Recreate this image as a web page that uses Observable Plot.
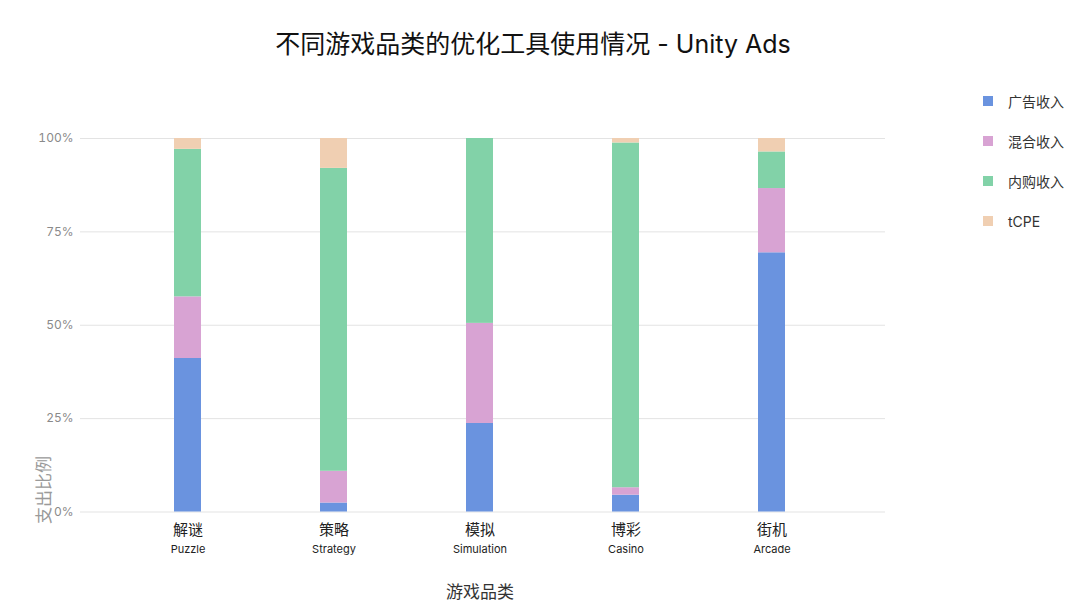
<!DOCTYPE html>
<html>
<head>
<meta charset="utf-8">
<script src="https://cdn.jsdelivr.net/npm/d3@7"></script>
<script src="https://cdn.jsdelivr.net/npm/@observablehq/plot@0.6"></script>
<style>
  html, body { margin: 0; padding: 0; background: #fff; }
  body { font-family: Inter, "Noto Sans CJK SC", sans-serif; }
  #wrap { position: relative; width: 1080px; height: 609px; overflow: hidden; }
  #chart { position: absolute; left: 0; top: 0; }
  #title { position: absolute; left: 0; width: 1066px; top: 24px; text-align: center; font-size: 25px; color: #111; }
  #ylabel { position: absolute; left: 42px; top: 490px; transform: translate(-50%, -50%) rotate(-90deg); font-size: 17px; color: #9a9a9a; white-space: nowrap; }
  #xlabel { position: absolute; left: 480px; top: 590px; transform: translate(-50%, -50%); font-size: 17px; color: #333; white-space: nowrap; }
  #legend { position: absolute; left: 983px; top: 91px; }
  .li { display: flex; align-items: center; height: 20px; margin-bottom: 20px; font-size: 14px; color: #333; }
  .sw { width: 10px; height: 10px; margin-right: 15px; }
</style>
</head>
<body>
<div id="wrap">
  <div id="chart"></div>
  <div id="title">不同游戏品类的优化工具使用情况 - Unity Ads</div>
  <div id="ylabel">支出比例</div>
  <div id="xlabel">游戏品类</div>
  <div id="legend"></div>
</div>
<script>
const categories = ["解谜", "策略", "模拟", "博彩", "街机"];
const categoriesEn = ["Puzzle", "Strategy", "Simulation", "Casino", "Arcade"];
const seriesNames = ["广告收入", "混合收入", "内购收入", "tCPE"];
const adRevenue    = [41.1, 2.4, 23.7, 4.5, 69.4];
const hybridRevenue = [16.5, 8.5, 26.8, 2.0, 17.2];
const iapRevenue   = [39.5, 81.1, 49.5, 92.3, 9.8];
const tcpe         = [2.9, 8.0, 0.0, 1.2, 3.6];
const yTicks = [0, 0.25, 0.5, 0.75, 1];
const colors = ["#6a93df", "#d8a3d3", "#82d2a8", "#f0cfb2"];

const seriesValues = [adRevenue, hybridRevenue, iapRevenue, tcpe];
const rows = [];
seriesNames.forEach((s, si) => {
  categories.forEach((c, ci) => {
    rows.push({category: c, en: categoriesEn[ci], series: s, value: seriesValues[si][ci] / 100});
  });
});
const labelRows = categories.map((c, i) => ({category: c, en: categoriesEn[i]}));

const chart = Plot.plot({
  width: 1080,
  height: 609,
  marginLeft: 80,
  marginRight: 195,
  marginTop: 138,
  marginBottom: 97.5,
  style: {fontFamily: 'Inter, "Noto Sans CJK SC", sans-serif', background: "transparent"},
  x: {domain: categories, paddingInner: 0.816, paddingOuter: 0.408, insetLeft: 33, insetRight: 40, axis: null},
  y: {domain: [0, 1], ticks: yTicks, tickFormat: d3.format(".0%"), label: null, grid: false},
  color: {domain: seriesNames, range: colors},
  marks: [
    Plot.gridY(yTicks, {stroke: "#e3e3e3", strokeOpacity: 1, strokeWidth: 1}),
    Plot.axisY(yTicks, {tickSize: 0, tickPadding: 7, tickFormat: d3.format(".0%"), fontSize: 12, color: "#8a8a8a", label: null}),
    Plot.barY(rows, {x: "category", y: "value", fill: "series", order: seriesNames}),
    Plot.text(labelRows, {x: "category", text: "category", frameAnchor: "bottom", dy: 23, fontSize: 15, fill: "#222"}),
    Plot.text(labelRows, {x: "category", text: "en", frameAnchor: "bottom", dy: 41, fontSize: 11, fill: "#222"})
  ]
});
document.getElementById("chart").appendChild(chart);

const legend = document.getElementById("legend");
seriesNames.forEach((s, i) => {
  const li = document.createElement("div");
  li.className = "li";
  const sw = document.createElement("div");
  sw.className = "sw";
  sw.style.background = colors[i];
  const t = document.createElement("span");
  t.textContent = s;
  li.appendChild(sw);
  li.appendChild(t);
  legend.appendChild(li);
});
</script>
</body>
</html>
